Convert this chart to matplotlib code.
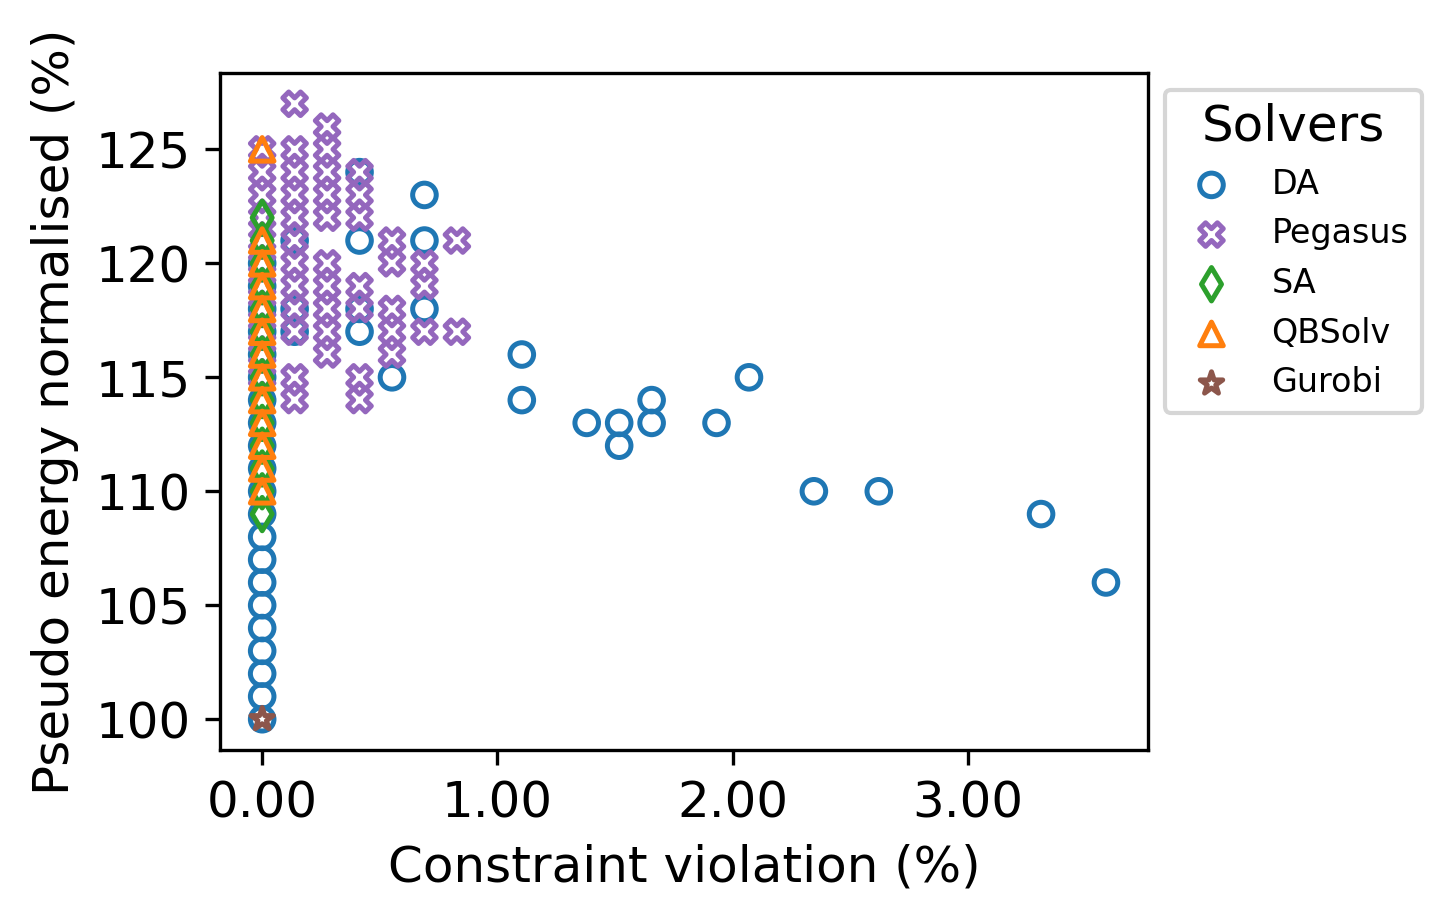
import matplotlib
matplotlib.use("Agg")
import matplotlib.pyplot as plt
from matplotlib.ticker import FormatStrFormatter

# Constraint violation (%) and pseudo energy normalised (%) per solver
da_x = [0.0] * 21 + [0.138, 0.138, 0.138, 0.414, 0.414, 0.414, 0.414, 0.552,
                     0.69, 0.69, 0.69, 1.104, 1.104, 1.38, 1.518, 1.518, 1.656,
                     1.656, 1.932, 2.07, 2.346, 2.622, 3.312, 3.588]
da_y = [100, 101, 102, 103, 104, 105, 106, 107, 108, 109, 110, 111, 112, 113,
        114, 115, 116, 117, 118, 119, 120,
        121, 118, 117, 124, 121, 118, 117, 115,
        123, 121, 118, 116, 114, 113, 113, 112, 114,
        113, 113, 115, 110, 110, 109, 106]

peg_x = ([0.0] * 11 + [0.138] * 12 + [0.276] * 10 + [0.414] * 7 + [0.552] * 5
         + [0.69] * 3 + [0.828] * 2)
peg_y = [125, 124, 123, 122, 121, 120, 119, 118, 117, 116, 115,
         127, 125, 124, 123, 122, 121, 120, 119, 118, 117, 115, 114,
         126, 125, 124, 123, 122, 120, 119, 118, 117, 116,
         124, 123, 122, 119, 118, 115, 114,
         121, 120, 118, 117, 116,
         120, 119, 117,
         121, 117]

sa_x = [0.0] * 14
sa_y = [109, 110, 111, 112, 113, 114, 115, 116, 117, 118, 119, 120, 121, 122]

qb_x = [0.0] * 13
qb_y = [110, 111, 112, 113, 114, 115, 116, 117, 118, 119, 120, 121, 125]

gur_x = [0.0]
gur_y = [100]

fig = plt.figure(figsize=(1453 / 300, 924 / 300), dpi=300)
ax = fig.add_axes([0.1514, 0.1883, 0.6388, 0.7327])

kw = dict(s=32, facecolors="none", linewidths=1.2)
ax.scatter(da_x, da_y, marker="o", edgecolors="tab:blue", label="DA", **kw)
ax.scatter(peg_x, peg_y, marker="X", edgecolors="tab:purple", label="Pegasus", **kw)
ax.scatter(sa_x, sa_y, marker="d", edgecolors="tab:green", label="SA", **kw)
ax.scatter(qb_x, qb_y, marker="^", edgecolors="tab:orange", label="QBSolv", **kw)
ax.scatter(gur_x, gur_y, marker="*", edgecolors="tab:brown", label="Gurobi", **kw)

ax.xaxis.set_major_formatter(FormatStrFormatter("%.2f"))
ax.set_xticks([0, 1, 2, 3])
ax.set_yticks([100, 105, 110, 115, 120, 125])
ax.tick_params(labelsize=12)
ax.set_xlabel("Constraint violation (%)", fontsize=12)
ax.set_ylabel("Pseudo energy normalised (%)", fontsize=12)

ax.legend(title="Solvers", bbox_to_anchor=(1, 1), loc="upper left",
          fontsize=8, title_fontsize=12)

fig.savefig("out.png", dpi=300)
